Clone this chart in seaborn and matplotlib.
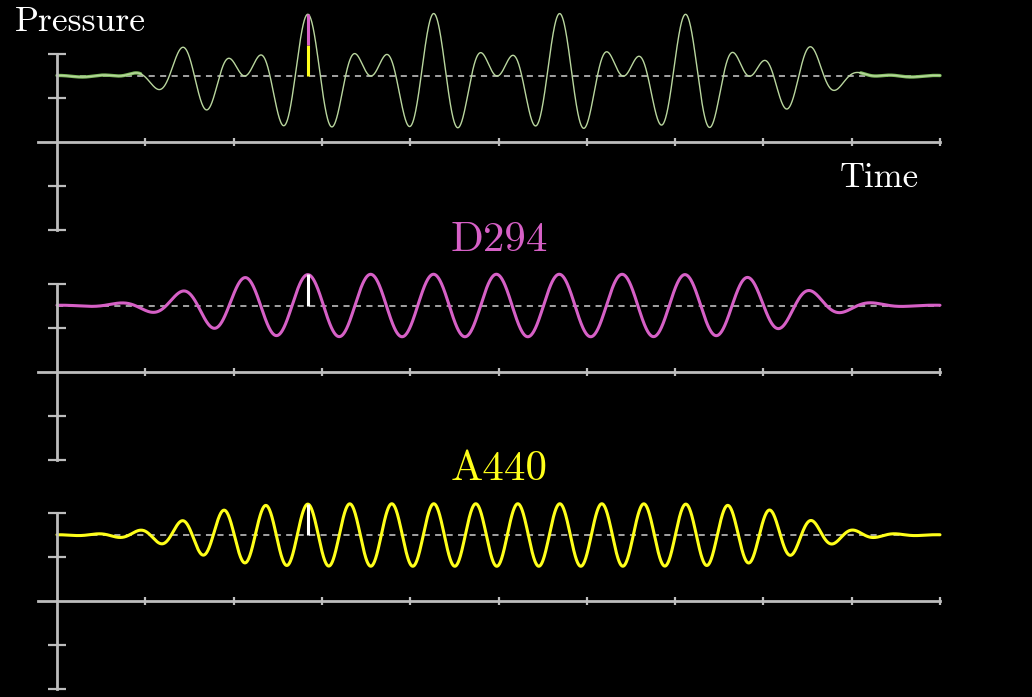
import numpy as np
import pandas as pd
import matplotlib.pyplot as plt
import seaborn as sns

# values (time in axis units, pressure in axis units)
notes = ["D294", "A440"]
note_freqs_hz = [294, 440]
note_colors = ["#D660C6", "#FFFF1A"]
a440_cycles_per_unit = 2.102          # A440 period ~ 0.476 time units
aligned_peak_time = 2.84              # all peaks line up here
amplitude = 0.71
baseline_pressure = 1.5
fade_in_center, fade_out_center, fade_width = 1.47, 8.5, 0.31
x_ticks = [1, 2, 3, 4, 5, 6, 7, 8, 9, 10]
y_ticks = [-2, -1, 1, 2]

t = np.linspace(0, 10, 3000)
env = 1 / (1 + np.exp(-(t - fade_in_center) / fade_width)) / (1 + np.exp((t - fade_out_center) / fade_width))
waves = {}
for name, f in zip(notes, note_freqs_hz):
    freq = a440_cycles_per_unit * f / 440
    waves[name] = amplitude * env * np.cos(2 * np.pi * freq * (t - aligned_peak_time))
df = pd.DataFrame({"t": t,
                   "Sum": baseline_pressure + waves["D294"] + waves["A440"],
                   "D294": baseline_pressure + waves["D294"],
                   "A440": baseline_pressure + waves["A440"]})

sns.set_theme(style="dark")
plt.rcParams["font.family"] = ["cmr10", "DejaVu Serif"]
plt.rcParams["axes.unicode_minus"] = False

W, H = 1032, 697
fig = plt.figure(figsize=(W / 100, H / 100), dpi=100, facecolor="black")
axis_grey = "#BDBDBD"
px_x, px_y = 88.3, 44.0
origin_px = 57
above, below = 140, 95


def make_panel(y0):
    ax = fig.add_axes([0, (H - (y0 + below)) / H, 1, (above + below) / H])
    ax.set_facecolor("none")
    ax.set_xlim(-origin_px / px_x, (W - origin_px) / px_x)
    ax.set_ylim(-below / px_y, above / px_y)
    for s in ["top", "right"]:
        ax.spines[s].set_visible(False)
    ax.spines["left"].set_position(("data", 0))
    ax.spines["bottom"].set_position(("data", 0))
    ax.spines["left"].set_bounds(-2, 2)
    ax.spines["bottom"].set_bounds(-0.22, 10)
    for s in ["left", "bottom"]:
        ax.spines[s].set_color(axis_grey)
        ax.spines[s].set_linewidth(2.0)
    ax.set_xticks(x_ticks)
    ax.set_yticks(y_ticks)
    ax.tick_params(axis="x", direction="inout", length=6, width=1.6, color=axis_grey,
                   labelbottom=False, bottom=True)
    ax.tick_params(axis="y", direction="inout", length=13, width=1.6, color=axis_grey,
                   labelleft=False, left=True)
    ax.grid(False)
    ax.hlines(baseline_pressure, 0, 10, colors="#CFCFCF", linestyles=(0, (4, 3.5)), lw=1.1)
    return ax


ax_sum = make_panel(142)
ax_d = make_panel(371.5)
ax_a = make_panel(601)

# summed wave
early = df[df.t <= 0.95]
late = df[df.t >= 9.1]
sns.lineplot(data=early, x="t", y="Sum", ax=ax_sum, color="#7FBE5F", lw=2.4, sort=False, estimator=None)
sns.lineplot(data=late, x="t", y="Sum", ax=ax_sum, color="#7FBE5F", lw=2.4, sort=False, estimator=None)
sns.lineplot(data=df, x="t", y="Sum", ax=ax_sum, color="#B9D69E", lw=1.0, sort=False, estimator=None)
ax_sum.vlines(aligned_peak_time, baseline_pressure, baseline_pressure + amplitude,
              colors=note_colors[1], lw=2.2, zorder=5)
ax_sum.vlines(aligned_peak_time, baseline_pressure + amplitude, baseline_pressure + 2 * amplitude,
              colors=note_colors[0], lw=2.2, zorder=5)

for ax, name, col in [(ax_d, "D294", note_colors[0]), (ax_a, "A440", note_colors[1])]:
    sns.lineplot(data=df, x="t", y=name, ax=ax, color=col, lw=2.2, sort=False, estimator=None)
    ax.vlines(aligned_peak_time, baseline_pressure, baseline_pressure + amplitude,
              colors="white", lw=2.2, zorder=5)

for ax in [ax_sum, ax_d, ax_a]:
    ax.set_xlabel("")
    ax.set_ylabel("")

fig.text(15 / W, 1 - 31 / H, "Pressure", color="white", fontsize=25.5, ha="left", va="baseline")
fig.text(840 / W, 1 - 187 / H, "Time", color="white", fontsize=25, ha="left", va="baseline")
fig.text(499 / W, 1 - 251 / H, "D294", color=note_colors[0], fontsize=31, ha="center", va="baseline")
fig.text(499 / W, 1 - 480 / H, "A440", color=note_colors[1], fontsize=31, ha="center", va="baseline")

fig.savefig("out.png", dpi=100, facecolor="black")
